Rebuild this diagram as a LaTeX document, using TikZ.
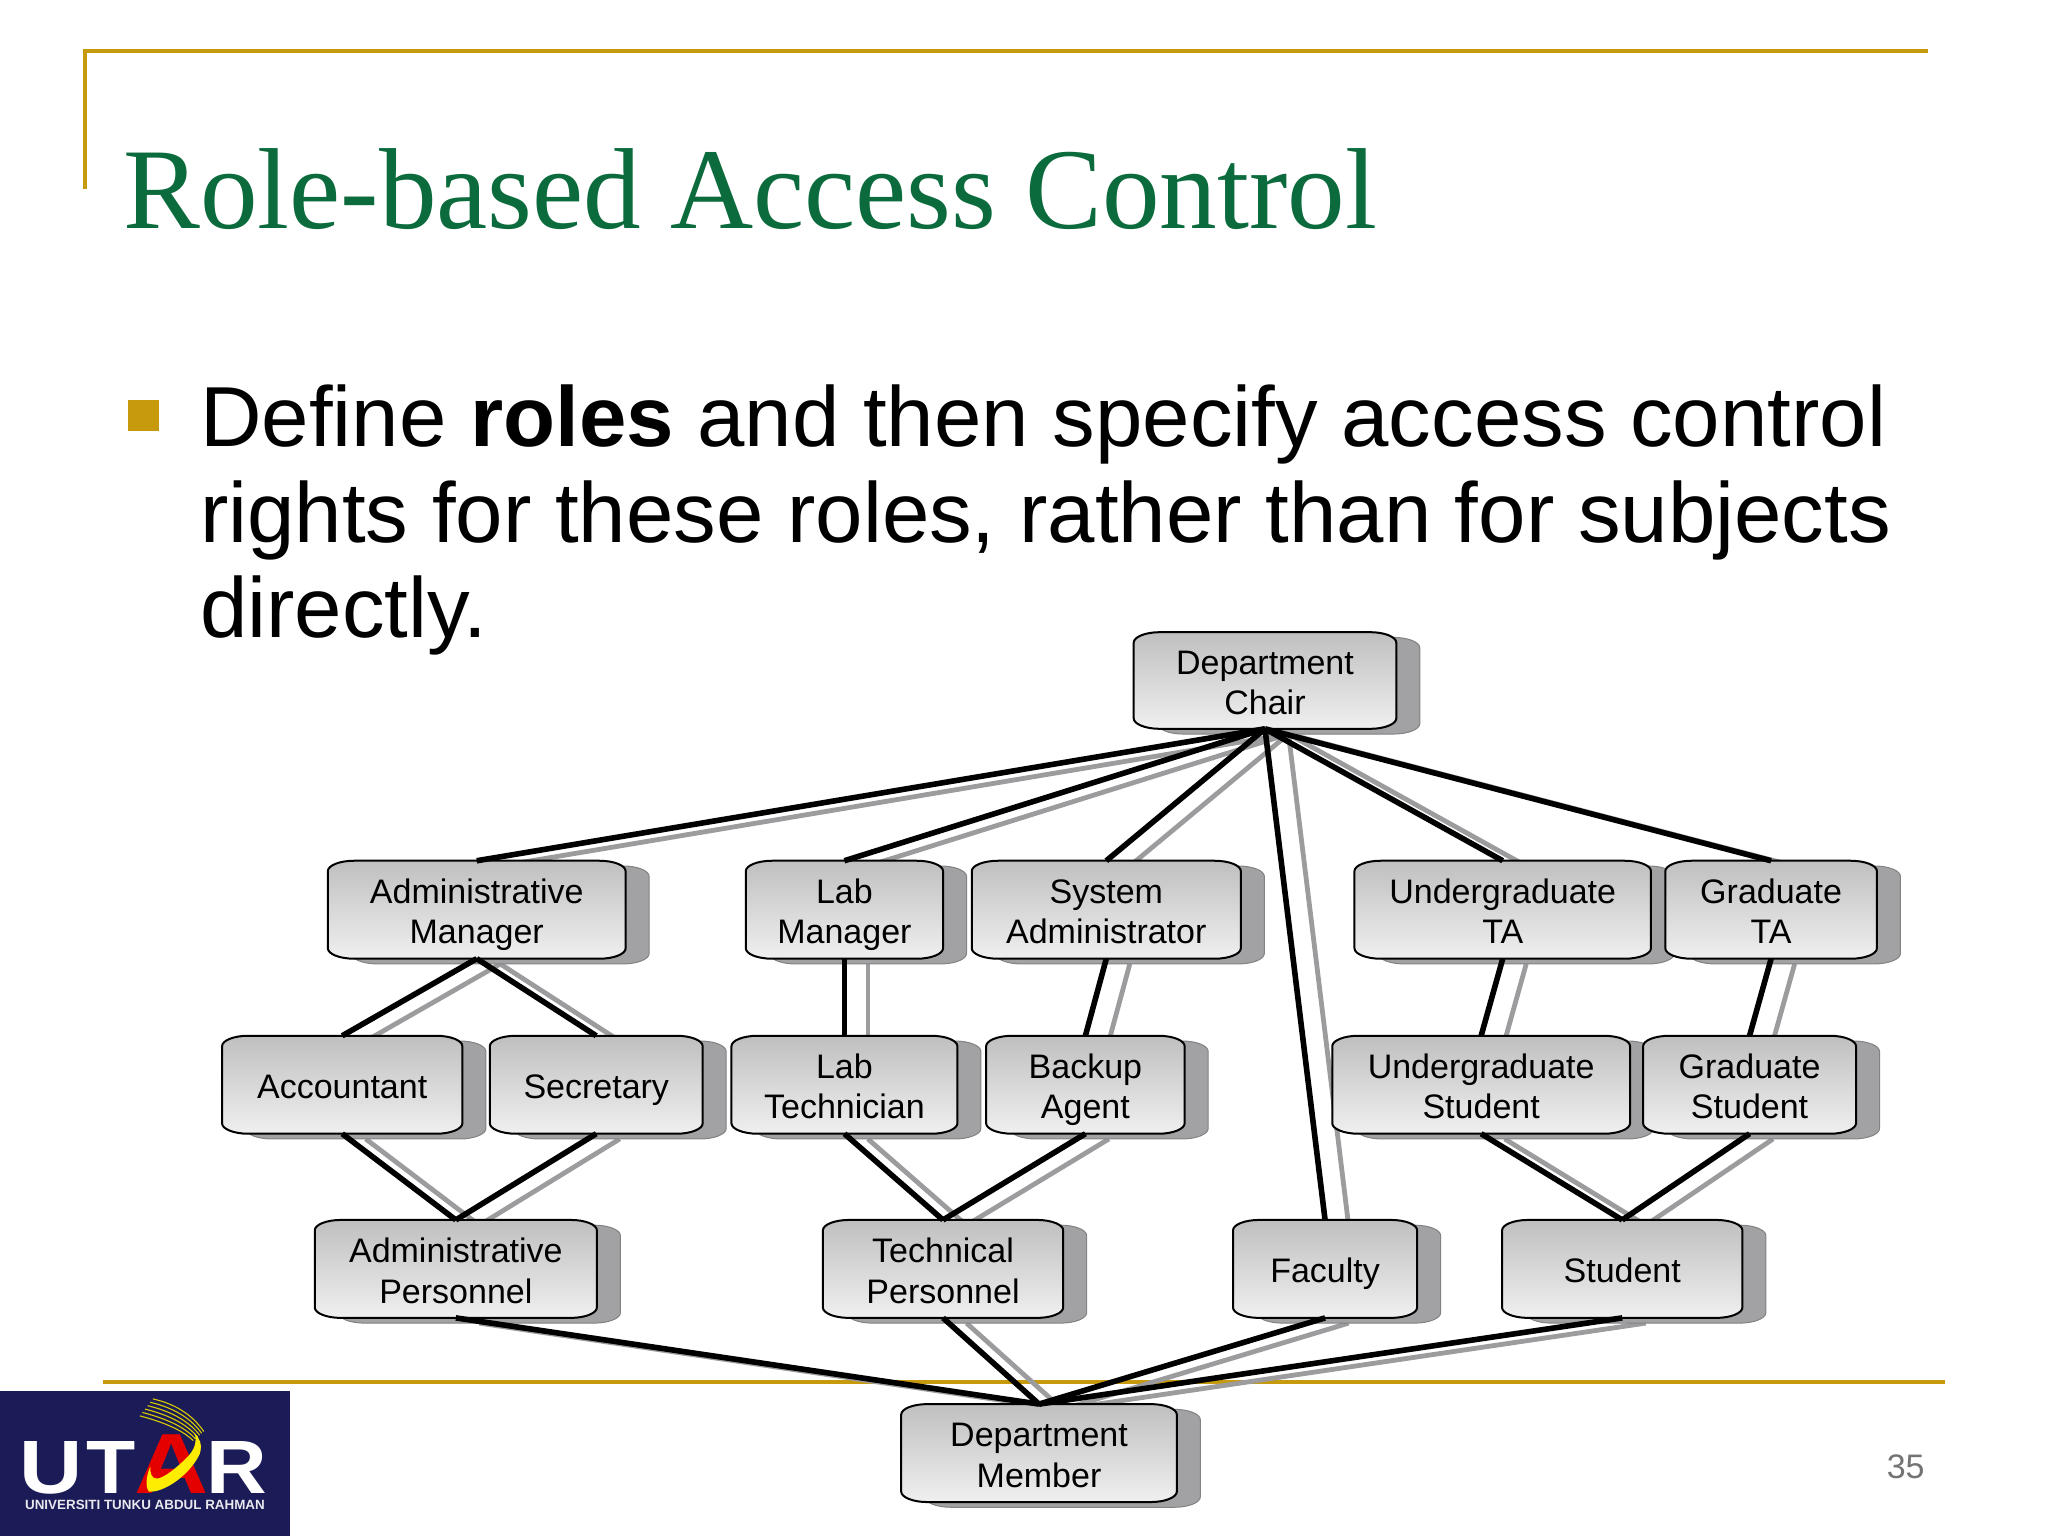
\documentclass[tikz,border=0pt]{standalone}
\usepackage{fontspec}
\setmainfont{Liberation Sans}
\newfontfamily\titlefont{Liberation Serif}
\usetikzlibrary{backgrounds}
\definecolor{goldline}{HTML}{C79A0E}
\definecolor{titlegreen}{HTML}{0B6B3D}
\definecolor{navy}{HTML}{1B1B57}
\definecolor{shadowgrey}{HTML}{A2A2A4}
\definecolor{linkgrey}{HTML}{9C9C9E}
\newcommand{\softbox}[5]{%
  \path[#5] (#1+20,#2) -- (#3-20,#2)
    .. controls (#3-9,#2) and (#3,#2+3.6) .. (#3,#2+8)
    -- (#3,#4-8)
    .. controls (#3,#4-3.6) and (#3-9,#4) .. (#3-20,#4)
    -- (#1+20,#4)
    .. controls (#1+9,#4) and (#1,#4-3.6) .. (#1,#4-8)
    -- (#1,#2+8)
    .. controls (#1,#2+3.6) and (#1+9,#2) .. (#1+20,#2) -- cycle;}
\newcommand{\rolebox}[6]{%
  \softbox{#2+18}{#3+4}{#4+18}{#5+4}{fill=shadowgrey,draw=shadowgrey!80!black,line width=.5pt}
  \node[anchorbox,minimum width=(#4-#2)*0.65306pt,minimum height=(#5-#3)*0.65306pt] (#1S) at ({(#2+#4)/2+18},{(#3+#5)/2+4}) {};
  \softbox{#2}{#3}{#4}{#5}{top color=boxtop,bottom color=boxbot,draw=black,line width=1pt}
  \node[rolelabel,minimum width=(#4-#2)*0.65306pt,minimum height=(#5-#3)*0.65306pt] (#1) at ({(#2+#4)/2},{(#3+#5)/2}) {\raisebox{-7.3pt}[0pt][0pt]{\begin{tabular}{@{}c@{}}#6\end{tabular}}};}
\colorlet{boxtop}{black!25}
\colorlet{boxbot}{black!6}
\tikzset{
  anchorbox/.style={inner sep=0pt,outer sep=0pt},
  rolelabel/.style={inner sep=0pt,outer sep=0pt,text=black,font=\fontsize{17}{20.2}\selectfont},
  blacklink/.style={draw=black,line width=2.8pt},
  greylink/.style={draw=linkgrey,line width=2.4pt},
  goldrule/.style={draw=goldline,line width=1.9pt},
  bodyline/.style={anchor=base west,inner sep=0pt,text=black,font=\fontsize{42.6}{48}\selectfont},
  logoletter/.style={anchor=base west,inner sep=0pt,font=\bfseries\fontsize{35}{35}\selectfont},
}
\begin{document}
\begin{tikzpicture}[x=0.65306pt,y=-0.65306pt]
\useasboundingbox (0,0) rectangle (1568,1176);
% title and text
\node[anchor=base west,inner sep=0pt,text=titlegreen,font=\titlefont\fontsize{57.6}{60}\selectfont] (title) at (94,175) {Role-based Access Control};
\node[bodyline] (line1) at (153,342) {Define \textbf{roles} and then specify access control};
\node[bodyline] (line2) at (153,415) {rights for these roles, rather than for subjects};
\node[bodyline] (line3) at (153,488) {directly.};
\fill[goldline] (98,306) rectangle (122,330);
% roles
\rolebox{chair}{868}{484}{1069}{558}{Department\\Chair}
\rolebox{adminmgr}{251}{659}{479}{734}{Administrative\\Manager}
\rolebox{labmgr}{571}{659}{722}{734}{Lab\\Manager}
\rolebox{sysadmin}{744}{659}{950}{734}{System\\Administrator}
\rolebox{ugta}{1037}{659}{1264}{734}{Undergraduate\\TA}
\rolebox{gradta}{1275}{659}{1437}{734}{Graduate\\TA}
\rolebox{accountant}{170}{793}{354}{868}{Accountant}
\rolebox{secretary}{375}{793}{538}{868}{Secretary}
\rolebox{labtech}{560}{793}{733}{868}{Lab\\Technician}
\rolebox{backup}{755}{793}{907}{868}{Backup\\Agent}
\rolebox{ugstudent}{1020}{793}{1248}{868}{Undergraduate\\Student}
\rolebox{gradstudent}{1258}{793}{1421}{868}{Graduate\\Student}
\rolebox{adminpers}{241}{934}{457}{1009}{Administrative\\Personnel}
\rolebox{techpers}{630}{934}{814}{1009}{Technical\\Personnel}
\rolebox{faculty}{944}{934}{1085}{1009}{Faculty}
\rolebox{student}{1150}{934}{1334}{1009}{Student}
\rolebox{member}{690}{1075}{901}{1150}{Department\\Member}
% connectors
\begin{pgfonlayer}{background}
\draw[goldrule] (65,145) -- (65,39) -- (1476,39);
\draw[goldrule] (79,1058) -- (1489,1058);
\foreach \a/\b in {chair/adminmgr,chair/labmgr,chair/sysadmin,chair/faculty,chair/ugta,chair/gradta,
  adminmgr/accountant,adminmgr/secretary,labmgr/labtech,sysadmin/backup,ugta/ugstudent,gradta/gradstudent,
  accountant/adminpers,secretary/adminpers,labtech/techpers,backup/techpers,ugstudent/student,gradstudent/student,
  adminpers/member,techpers/member,faculty/member,student/member}
  \draw[greylink] (\a S.south) -- (\b S.north);
\end{pgfonlayer}
\foreach \a/\b in {chair/adminmgr,chair/labmgr,chair/sysadmin,chair/faculty,chair/ugta,chair/gradta,
  adminmgr/accountant,adminmgr/secretary,labmgr/labtech,sysadmin/backup,ugta/ugstudent,gradta/gradstudent,
  accountant/adminpers,secretary/adminpers,labtech/techpers,backup/techpers,ugstudent/student,gradstudent/student,
  adminpers/member,techpers/member,faculty/member,student/member}
  \draw[blacklink] (\a.south) -- (\b.north);
% page number
\node[text=black!55,inner sep=0pt,font=\fontsize{17}{20}\selectfont] (page) at (1459,1123) {35};
% logo
\fill[navy] (0,1065) rectangle (222,1176);
\foreach \i in {0,...,5}
  \draw[draw=yellow!65!olive,line width=.55pt]
    ({117-2*\i},{1071+2.6*\i}) .. controls ({135-1*\i},{1075+3*\i}) and ({148-1.2*\i},{1084+2.6*\i}) .. ({156-1.6*\i},{1096+1.4*\i});
\node[logoletter,text=white] (logoU) at (15,1143.5) {\scalebox{1.25}[1.08]{U}};
\node[logoletter,text=white] (logoT) at (66,1143.5) {\scalebox{1.15}[1.08]{T}};
\node[logoletter,text=red!90!black] (logoA) at (103,1143.5) {\scalebox{1.47}[1.22]{A}};
\node[logoletter,text=white] (logoR) at (158,1143.5) {\scalebox{1.2}[1.08]{R}};
\fill[yellow!95!orange] (115,1123) .. controls (112,1130) and (111,1138) .. (114,1142)
  .. controls (125,1143) and (145,1130) .. (153,1113)
  .. controls (155,1106) and (153,1101) .. (149,1097.5)
  .. controls (151,1104) and (149,1110) .. (143,1116)
  .. controls (135,1124) and (125,1132) .. (120,1132)
  .. controls (116,1132) and (115,1128) .. (115,1123) -- cycle;
\node[inner sep=0pt,text=white!90!navy,font=\bfseries\fontsize{6.7}{7}\selectfont] (logotext) at (111,1152) {UNIVERSITI TUNKU ABDUL RAHMAN};
\end{tikzpicture}
\end{document}
